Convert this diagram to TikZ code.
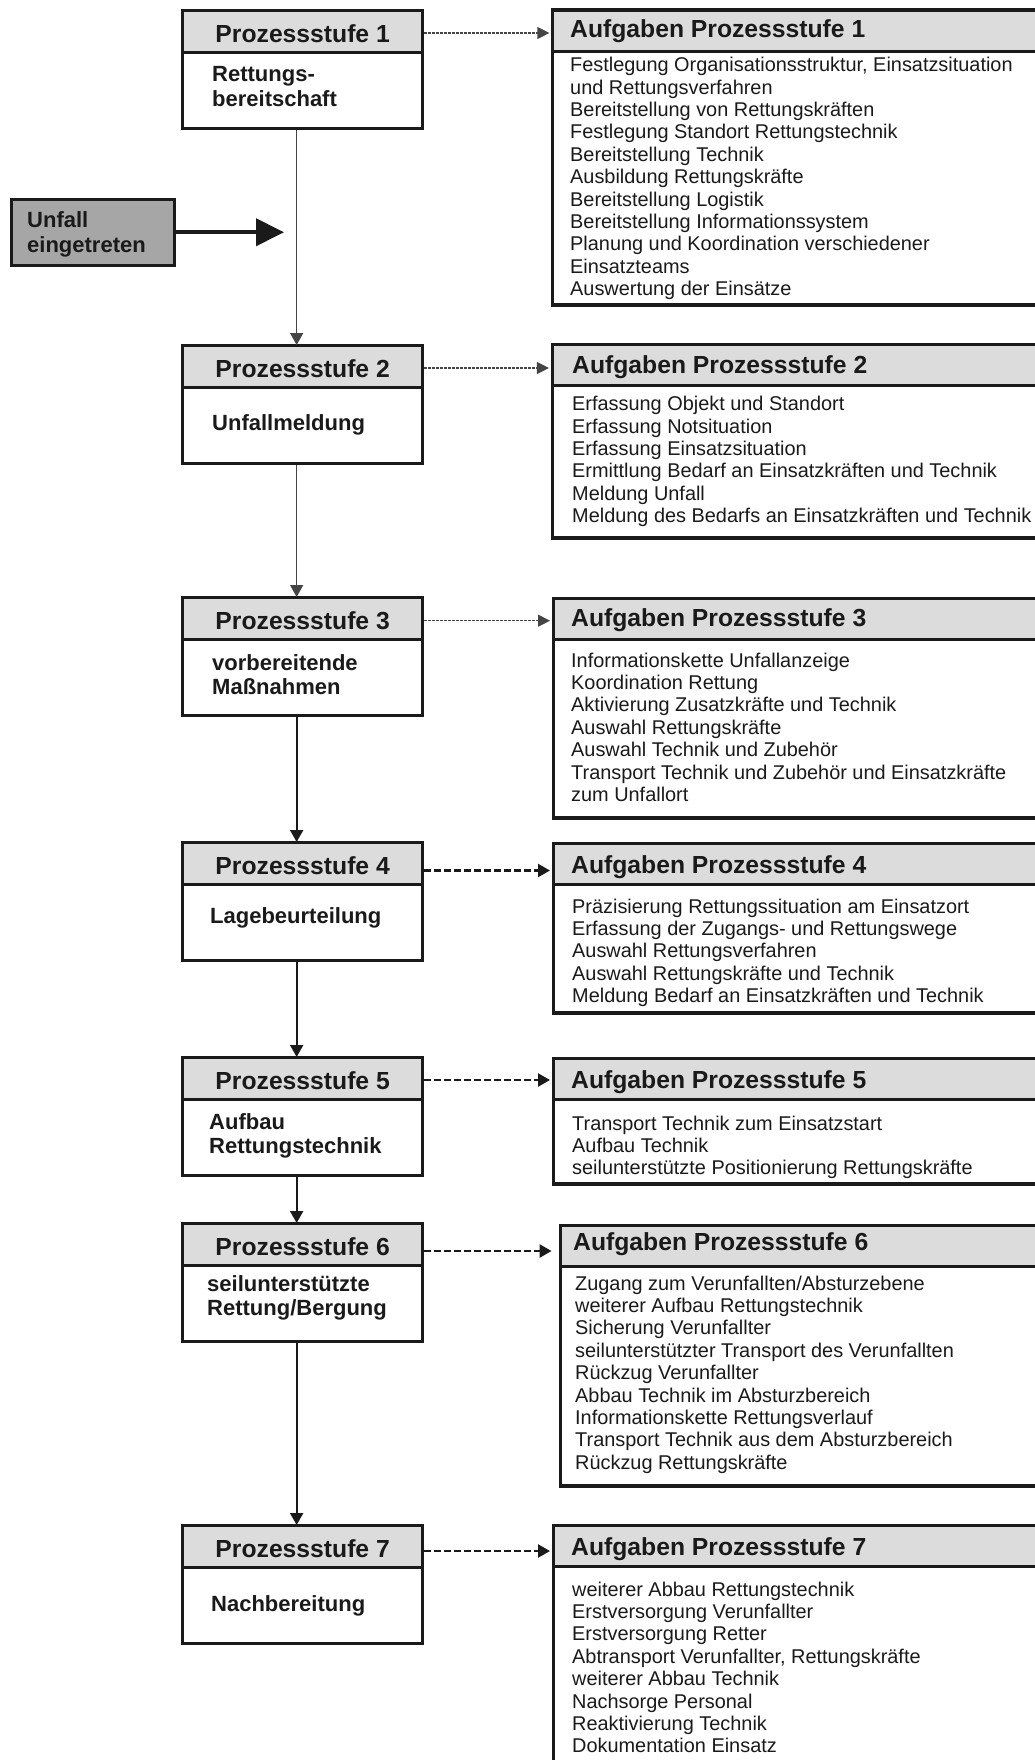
\documentclass[tikz,border=0pt]{standalone}
\usepackage{fontspec}
\setmainfont{Liberation Sans}
\usetikzlibrary{arrows.meta}
\definecolor{hdrgray}{HTML}{DCDCDC}
\definecolor{unfgray}{HTML}{A6A6A6}
\definecolor{ink}{HTML}{1A1A1A}
\definecolor{thinink}{HTML}{454545}
\newcommand\hfnt{\fontsize{24.7}{28}\selectfont\bfseries}
\newcommand\lfnt{\fontsize{22}{24.5}\selectfont\bfseries}
\newcommand\bfnt{\fontsize{19.9}{22.4}\selectfont}
\newcommand\txtlines[1]{\begin{tabular}[t]{@{}l@{}}#1\end{tabular}}
\tikzset{
  lhdr/.style={draw=ink, line width=3.3pt, fill=hdrgray, rectangle, inner sep=0pt,
    anchor=north west, minimum width=240pt, minimum height=42pt,
    font=\hfnt, text=ink, text height=22pt, text depth=0pt},
  lbdy/.style={draw=ink, line width=3.3pt, fill=white, rectangle, inner sep=0pt,
    anchor=north west, minimum width=240pt, minimum height=76pt},
  rhdr/.style={draw=ink, line width=3.3pt, fill=hdrgray, rectangle, inner sep=0pt,
    anchor=north west, minimum width=520pt, minimum height=41.5pt},
  rbdy/.style={draw=ink, line width=3.3pt, fill=white, rectangle, inner sep=0pt,
    anchor=north west, minimum width=520pt},
  ltxt/.style={anchor=base west, inner sep=0pt, font=\lfnt, text=ink},
  rtit/.style={anchor=base west, inner sep=0pt, font=\hfnt, text=ink},
  rtxt/.style={anchor=base west, inner sep=0pt, font=\bfnt, text=ink},
  flowthin/.style={draw=thinink, line width=1.3pt, -{Triangle[length=12pt,width=13pt]}, shorten >=-1pt},
  flowthick/.style={draw=ink, line width=2pt, -{Triangle[length=12pt,width=13pt]}, shorten >=-1pt},
  dthin/.style={draw=thinink, line width=1.2pt, dash pattern=on 2.5pt off 1.5pt,
    -{Triangle[length=12pt,width=12pt]}, shorten >=1.6pt},
  dthick/.style={draw=ink, line width=2.3pt, dash pattern=on 6.5pt off 3.5pt,
    -{Triangle[length=12pt,width=13pt]}, shorten >=1.6pt},
}
\begin{document}
\begin{tikzpicture}[x=1pt, y=-1pt]
\useasboundingbox (0,0) rectangle (1034,1760);
\fill[white] (0,0) rectangle (1034,1760);

% ---------------- left process boxes ----------------
\node[lbdy] (b1) at (181,51) {};
\node[lhdr] (h1) at (181,9) {Prozessstufe 1};
\node[ltxt] (t1) at (212,82) {\txtlines{Rettungs-\\bereitschaft}};

\node[lbdy] (b2) at (181,386) {};
\node[lhdr] (h2) at (181,344) {Prozessstufe 2};
\node[ltxt] (t2) at (212,430) {\txtlines{Unfallmeldung}};

\node[lbdy] (b3) at (181,638) {};
\node[lhdr] (h3) at (181,596) {Prozessstufe 3};
\node[ltxt] (t3) at (212,670) {\txtlines{vorbereitende\\Maßnahmen}};

\node[lbdy] (b4) at (181,883) {};
\node[lhdr] (h4) at (181,841) {Prozessstufe 4};
\node[ltxt] (t4) at (210,923) {\txtlines{Lagebeurteilung}};

\node[lbdy] (b5) at (181,1098) {};
\node[lhdr] (h5) at (181,1056) {Prozessstufe 5};
\node[ltxt] (t5) at (209,1129) {\txtlines{Aufbau\\Rettungstechnik}};

\node[lbdy] (b6) at (181,1264) {};
\node[lhdr] (h6) at (181,1222) {Prozessstufe 6};
\node[ltxt] (t6) at (207,1291) {\txtlines{seilunterstützte\\Rettung/Bergung}};

\node[lbdy] (b7) at (181,1566) {};
\node[lhdr] (h7) at (181,1524) {Prozessstufe 7};
\node[ltxt] (t7) at (211,1611) {\txtlines{Nachbereitung}};

% ---------------- accident box ----------------
\node[draw=ink, line width=3.3pt, fill=unfgray, rectangle, inner sep=0pt,
      anchor=north west, minimum width=163pt, minimum height=66pt] (unf) at (9.6,197.6) {};
\node[ltxt] (ut) at (27,228) {\txtlines{Unfall\\eingetreten}};
\coordinate (hit) at (284,230.5);
\draw[ink, line width=4pt, -{Triangle[length=28pt,width=27pt]}] (unf.east) -- (unf.east -| hit);

% ---------------- right task boxes ----------------
\node[rbdy, minimum height=253.4pt] (rb1) at (551,50) {};
\node[rhdr] (rh1) at (551,8.5) {};
\node[rtit] (rt1) at (570,38) {Aufgaben Prozessstufe 1};
\node[rtxt] (rx1) at (570,71.7) {\txtlines{Festlegung Organisationsstruktur, Einsatzsituation\\und Rettungsverfahren\\Bereitstellung von Rettungskräften\\Festlegung Standort Rettungstechnik\\Bereitstellung Technik\\Ausbildung Rettungskräfte\\Bereitstellung Logistik\\Bereitstellung Informationssystem\\Planung und Koordination verschiedener\\Einsatzteams\\Auswertung der Einsätze}};

\node[rbdy, minimum height=152.4pt] (rb2) at (550.5,384) {};
\node[rhdr] (rh2) at (550.5,342.5) {};
\node[rtit] (rt2) at (572,373) {Aufgaben Prozessstufe 2};
\node[rtxt] (rx2) at (572,410.7) {\txtlines{Erfassung Objekt und Standort\\Erfassung Notsituation\\Erfassung Einsatzsituation\\Ermittlung Bedarf an Einsatzkräften und Technik\\Meldung Unfall\\Meldung des Bedarfs an Einsatzkräften und Technik}};

\node[rbdy, minimum height=178.4pt] (rb3) at (551.6,638) {};
\node[rhdr] (rh3) at (551.6,596.5) {};
\node[rtit] (rt3) at (571,626) {Aufgaben Prozessstufe 3};
\node[rtxt] (rx3) at (571,667) {\txtlines{Informationskette Unfallanzeige\\Koordination Rettung\\Aktivierung Zusatzkräfte und Technik\\Auswahl Rettungskräfte\\Auswahl Technik und Zubehör\\Transport Technik und Zubehör und Einsatzkräfte\\zum Unfallort}};

\node[rbdy, minimum height=128.4pt] (rb4) at (551.6,883) {};
\node[rhdr] (rh4) at (551.6,841.5) {};
\node[rtit] (rt4) at (571,873) {Aufgaben Prozessstufe 4};
\node[rtxt] (rx4) at (572,913) {\txtlines{Präzisierung Rettungssituation am Einsatzort\\Erfassung der Zugangs- und Rettungswege\\Auswahl Rettungsverfahren\\Auswahl Rettungskräfte und Technik\\Meldung Bedarf an Einsatzkräften und Technik}};

\node[rbdy, minimum height=84.4pt] (rb5) at (551.6,1098) {};
\node[rhdr] (rh5) at (551.6,1056.5) {};
\node[rtit] (rt5) at (571,1088) {Aufgaben Prozessstufe 5};
\node[rtxt] (rx5) at (572,1130) {\txtlines{Transport Technik zum Einsatzstart\\Aufbau Technik\\seilunterstützte Positionierung Rettungskräfte}};

\node[rbdy, minimum height=219.4pt] (rb6) at (558.6,1265) {};
\node[rhdr] (rh6) at (558.6,1223.5) {};
\node[rtit] (rt6) at (573,1250) {Aufgaben Prozessstufe 6};
\node[rtxt] (rx6) at (575,1290) {\txtlines{Zugang zum Verunfallten/Absturzebene\\weiterer Aufbau Rettungstechnik\\Sicherung Verunfallter\\seilunterstützter Transport des Verunfallten\\Rückzug Verunfallter\\Abbau Technik im Absturzbereich\\Informationskette Rettungsverlauf\\Transport Technik aus dem Absturzbereich\\Rückzug Rettungskräfte}};

\node[rbdy, minimum height=240pt] (rb7) at (551.6,1565) {};
\node[rhdr] (rh7) at (551.6,1523.5) {};
\node[rtit] (rt7) at (571,1555) {Aufgaben Prozessstufe 7};
\node[rtxt] (rx7) at (572,1596) {\txtlines{weiterer Abbau Rettungstechnik\\Erstversorgung Verunfallter\\Erstversorgung Retter\\Abtransport Verunfallter, Rettungskräfte\\weiterer Abbau Technik\\Nachsorge Personal\\Reaktivierung Technik\\Dokumentation Einsatz}};

% ---------------- vertical flow ----------------
\draw[flowthin]  ([xshift=-6pt]b1.south) -- ([xshift=-6pt]h2.north);
\draw[flowthin]  ([xshift=-6pt]b2.south) -- ([xshift=-6pt]h3.north);
\draw[flowthick] ([xshift=-6pt]b3.south) -- ([xshift=-6pt]h4.north);
\draw[flowthick] ([xshift=-6pt]b4.south) -- ([xshift=-6pt]h5.north);
\draw[flowthick] ([xshift=-6pt]b5.south) -- ([xshift=-6pt]h6.north);
\draw[flowthick] ([xshift=-6pt]b6.south) -- ([xshift=-6pt]h7.north);

% ---------------- dashed links ----------------
\coordinate (d1) at (0,33);
\coordinate (d2) at (0,368);
\coordinate (d3) at (0,620.7);
\coordinate (d4) at (0,870.5);
\coordinate (d5) at (0,1080);
\coordinate (d6) at (0,1251);
\coordinate (d7) at (0,1551);
\draw[dthin]  (h1.east |- d1) -- (rh1.west |- d1);
\draw[dthin]  (h2.east |- d2) -- (rh2.west |- d2);
\draw[dthin]  (h3.east |- d3) -- (rh3.west |- d3);
\draw[dthick] (h4.east |- d4) -- (rh4.west |- d4);
\draw[dthick] (h5.east |- d5) -- (rh5.west |- d5);
\draw[dthick, shorten >=7pt] (h6.east |- d6) -- (rh6.west |- d6);
\draw[dthick] (h7.east |- d7) -- (rh7.west |- d7);
\end{tikzpicture}
\end{document}
